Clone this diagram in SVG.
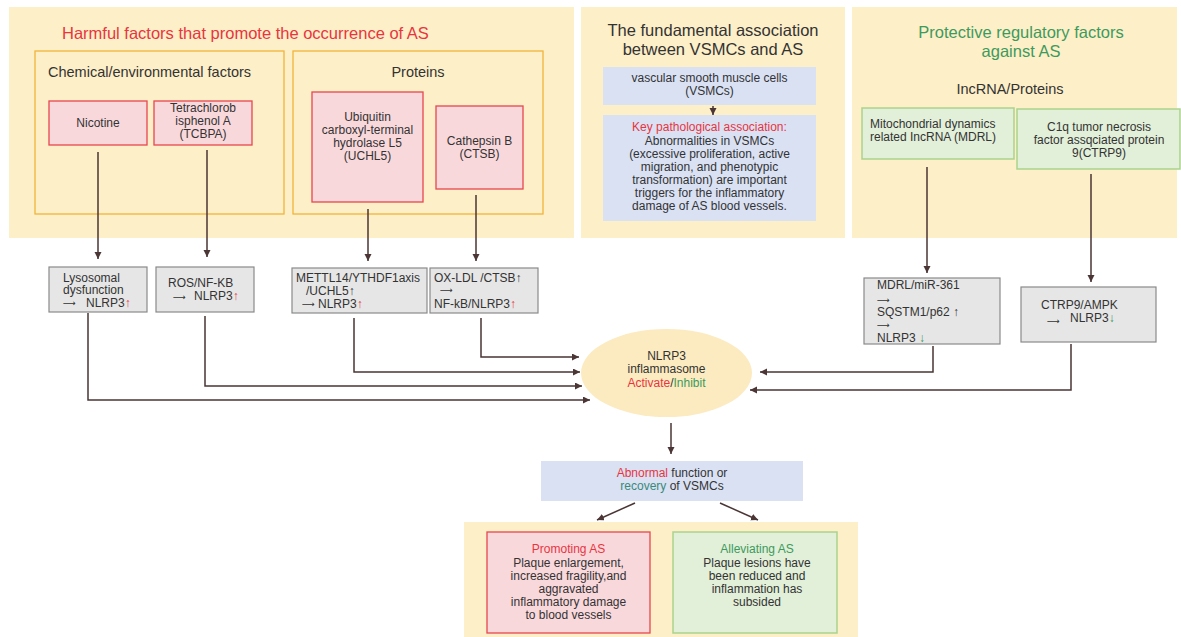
<svg xmlns="http://www.w3.org/2000/svg" width="1181" height="637" viewBox="0 0 1181 637">
<style>
text { font-family: "Liberation Sans", Arial, sans-serif; fill: #333; font-size: 12px; }
.title { font-size: 16.5px; }
.sub { font-size: 14.5px; }
.mid { text-anchor: middle; }
.arr { font-family: "DejaVu Sans", sans-serif; font-size: 9px; }
.red { fill: #e8353f; }
.grn { fill: #3d9a5d; }
.panel { fill: #fdefc8; }
.ibox { fill: none; stroke: #f2b43a; stroke-width: 1.3; }
.pink { fill: #f9d8dc; stroke: #e8464f; stroke-width: 1.3; }
.gray { fill: #e6e6e6; stroke: #8a8a8a; stroke-width: 1.2; }
.blue { fill: #d9e1f3; }
.green { fill: #e2efd9; stroke: #aad38c; stroke-width: 1.5; }
.conn { fill: none; stroke: #4b3535; stroke-width: 1.5; marker-end: url(#ah); }
</style>
<defs>
<marker id="ah" markerUnits="userSpaceOnUse" markerWidth="8" markerHeight="8" refX="7" refY="3.5" orient="auto">
<path d="M0,0 L7,3.5 L0,7 Z" fill="#4b3535"/>
</marker>
</defs>
<rect width="1181" height="637" fill="#ffffff"/>

<g id="panel-harmful">
<rect class="panel" x="9" y="7" width="565" height="231"/>
<text class="title red" x="62" y="39">Harmful factors that promote the occurrence of AS</text>
</g>
<g id="group-chemical">
<rect class="ibox" x="35" y="51" width="249" height="163"/>
<text class="sub" x="48" y="77">Chemical/environmental factors</text>
</g>
<g id="group-proteins">
<rect class="ibox" x="293" y="51" width="250" height="163"/>
<text class="sub mid" x="418" y="77">Proteins</text>
</g>
<g id="node-nicotine">
<rect class="pink" x="49" y="101" width="98" height="44"/>
<text class="mid" x="98" y="127">Nicotine</text>
</g>
<g id="node-tcbpa">
<rect class="pink" x="154" y="101" width="98" height="44"/>
<text class="mid" x="203" y="112">Tetrachlorob</text>
<text class="mid" x="203" y="125">isphenol A</text>
<text class="mid" x="203" y="138">(TCBPA)</text>
</g>
<g id="node-uchl5">
<rect class="pink" x="312" y="92" width="111" height="110"/>
<text class="mid" x="367.5" y="121">Ubiquitin</text>
<text class="mid" x="367.5" y="134">carboxyl-terminal</text>
<text class="mid" x="367.5" y="147">hydrolase L5</text>
<text class="mid" x="367.5" y="160">(UCHL5)</text>
</g>
<g id="node-ctsb">
<rect class="pink" x="436" y="106" width="87" height="83"/>
<text class="mid" x="479.5" y="145">Cathepsin B</text>
<text class="mid" x="479.5" y="158">(CTSB)</text>
</g>

<g id="panel-fundamental">
<rect class="panel" x="581" y="7" width="264" height="231"/>
<text class="title mid" x="713" y="36">The fundamental association</text>
<text class="title mid" x="713" y="54.5">between VSMCs and AS</text>
</g>
<g id="node-vsmc">
<rect class="blue" x="603" y="67" width="213" height="38"/>
<text class="mid" x="709.5" y="82">vascular smooth muscle cells</text>
<text class="mid" x="709.5" y="95">(VSMCs)</text>
</g>
<g id="node-key">
<rect class="blue" x="603" y="115" width="213" height="106"/>
<text class="mid red" x="709.5" y="131">Key pathological association:</text>
<text class="mid" x="709.5" y="144.5">Abnormalities in VSMCs</text>
<text class="mid" x="709.5" y="157.5">(excessive proliferation, active</text>
<text class="mid" x="709.5" y="170.7">migration, and phenotypic</text>
<text class="mid" x="709.5" y="183.8">transformation) are important</text>
<text class="mid" x="709.5" y="196.9">triggers for the inflammatory</text>
<text class="mid" x="709.5" y="210">damage of AS blood vessels.</text>
</g>

<g id="panel-protective">
<rect class="panel" x="852" y="7" width="325" height="231"/>
<text class="title mid grn" x="1021" y="38">Protective regulatory factors</text>
<text class="title mid grn" x="1021" y="57">against AS</text>
<text class="sub mid" x="1010" y="94">IncRNA/Proteins</text>
</g>
<g id="node-mdrl">
<rect class="green" x="862" y="108" width="152" height="51"/>
<text x="870" y="128">Mitochondrial dynamics</text>
<text x="870" y="141">related IncRNA (MDRL)</text>
</g>
<g id="node-ctrp9">
<rect class="green" x="1017" y="109" width="163" height="60"/>
<text class="mid" x="1099" y="130.5">C1q tumor necrosis</text>
<text class="mid" x="1099" y="143.5">factor assqciated protein</text>
<text class="mid" x="1099" y="156.5">9(CTRP9)</text>
</g>

<g id="node-lysosomal">
<rect class="gray" x="49" y="267" width="98" height="45"/>
<text x="63" y="281.7">Lysosomal</text>
<text x="63" y="294.2">dysfunction</text>
<text class="arr" x="63" y="306">⟶</text>
<text x="86" y="306.7">NLRP3<tspan class="red">↑</tspan></text>
</g>
<g id="node-ros">
<rect class="gray" x="156" y="267" width="98" height="45"/>
<text x="168" y="287">ROS/NF-KB</text>
<text class="arr" x="173" y="299.5">⟶</text>
<text x="194" y="300">NLRP3<tspan class="red">↑</tspan></text>
</g>
<g id="node-mettl14">
<rect class="gray" x="292" y="268" width="135" height="45"/>
<text x="296" y="282.3">METTL14/YTHDF1axis</text>
<text x="306" y="295">/UCHL5↑</text>
<text class="arr" x="302" y="306.5">⟶</text>
<text x="318" y="307.7">NLRP3<tspan class="red">↑</tspan></text>
</g>
<g id="node-oxldl">
<rect class="gray" x="430" y="268" width="108" height="45"/>
<text x="434" y="282.3">OX-LDL /CTSB↑</text>
<text class="arr" x="440" y="293">⟶</text>
<text x="434" y="307.7">NF-kB/NLRP3<tspan class="red">↑</tspan></text>
</g>
<g id="node-mirna">
<rect class="gray" x="864" y="278" width="136" height="66"/>
<text x="877" y="289">MDRL/miR-361</text>
<text class="arr" x="877" y="303">⟶</text>
<text x="877" y="316">SQSTM1/p62 ↑</text>
<text class="arr" x="877" y="328">⟶</text>
<text x="877" y="342.2">NLRP3 <tspan class="grn">↓</tspan></text>
</g>
<g id="node-ampk">
<rect class="gray" x="1021" y="287" width="135" height="55"/>
<text x="1041" y="309">CTRP9/AMPK</text>
<text class="arr" x="1047" y="324">⟶</text>
<text x="1070" y="321.7">NLRP3<tspan class="grn">↓</tspan></text>
</g>

<g id="node-nlrp3">
<ellipse cx="666.5" cy="373" rx="85.5" ry="44" fill="#fcebc0"/>
<text class="mid" x="666.5" y="360">NLRP3</text>
<text class="mid" x="666.5" y="373.3">inflammasome</text>
<text class="mid" x="666.5" y="386.7"><tspan class="red">Activate</tspan>/<tspan class="grn">Inhibit</tspan></text>
</g>

<g id="node-function">
<rect class="blue" x="541" y="461" width="262" height="40"/>
<text class="mid" x="672" y="476.7"><tspan class="red">Abnormal</tspan> function or</text>
<text class="mid" x="672" y="490"><tspan fill="#3a8a7a">recovery</tspan> of VSMCs</text>
</g>

<g id="panel-outcome">
<rect class="panel" x="464" y="522" width="394" height="115"/>
</g>
<g id="node-promoting">
<rect class="pink" x="487" y="532" width="163" height="101"/>
<text class="mid red" x="568.5" y="552.7">Promoting AS</text>
<text class="mid" x="568.5" y="566.7">Plaque enlargement,</text>
<text class="mid" x="568.5" y="579.7">increased fragility,and</text>
<text class="mid" x="568.5" y="592.7">aggravated</text>
<text class="mid" x="568.5" y="605.7">inflammatory damage</text>
<text class="mid" x="568.5" y="618.7">to blood vessels</text>
</g>
<g id="node-alleviating">
<rect class="green" x="673" y="532" width="164" height="101"/>
<text class="mid grn" x="757" y="552.7">Alleviating AS</text>
<text class="mid" x="757" y="566.7">Plaque lesions have</text>
<text class="mid" x="757" y="579.7">been reduced and</text>
<text class="mid" x="757" y="592.7">inflammation has</text>
<text class="mid" x="757" y="605.7">subsided</text>
</g>

<g id="connectors">
<path class="conn" d="M98,152 V259"/>
<path class="conn" d="M207,150 V257"/>
<path class="conn" d="M368,209 V261"/>
<path class="conn" d="M476,195 V261"/>
<path class="conn" d="M927,167 V273"/>
<path class="conn" d="M1091,174 V282"/>
<path class="conn" d="M713,106 V115"/>
<path class="conn" d="M88,313 V400 H590"/>
<path class="conn" d="M205,316 V386 H582"/>
<path class="conn" d="M354,318 V372 H580"/>
<path class="conn" d="M481,318 V357 H579"/>
<path class="conn" d="M933,346 V372 H760"/>
<path class="conn" d="M1071,344 V390 H750"/>
<path class="conn" d="M671,423 V454"/>
<path class="conn" d="M635,503 L597,520"/>
<path class="conn" d="M720,503 L758,520"/>
</g>
</svg>
